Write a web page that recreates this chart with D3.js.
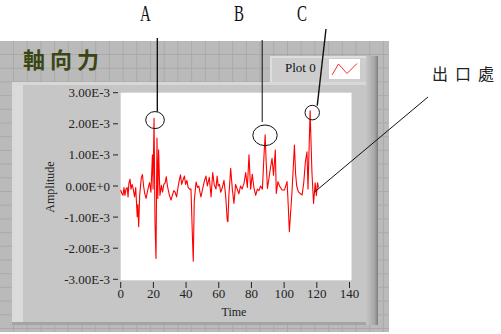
<!DOCTYPE html>
<html>
<head>
<meta charset="utf-8">
<script src="https://cdn.jsdelivr.net/npm/d3@7"></script>
<style>
  body { margin: 0; background: #fff; }
  svg { display: block; }
</style>
</head>
<body>
<script>
// ---- data (amplitude in units of 1E-3) ----
const timeVals = [0, 0.7, 1.4, 2, 2.6, 3.2, 4, 4.5, 5, 5.7, 6.3, 7, 7.6, 8.5, 9.2, 10.1, 10.5, 11, 11.6,
  12.6, 13.3, 14, 14.7, 15.5, 16.3, 17.1, 17.7, 18.5, 19.4, 19.8, 20.4, 21, 21.6, 22.2, 22.7, 23.2, 24,
  24.9, 25.6, 26.4, 27.2, 27.9, 28.6, 29.8, 30.8, 31.6, 32.5, 33.3, 34.2, 35.2, 35.9, 36.6, 37.3, 38.2,
  39, 39.7, 40.5, 41.3, 42.2, 43, 44, 44.4, 45, 46.1, 47, 47.8, 48.5, 49.1, 50.1, 51.2, 52.2, 53, 54.2,
  55.3, 56.3, 57.2, 58.3, 59, 59.7, 60.4, 61.2, 62.2, 63.2, 64.2, 65.2, 65.6, 66.2, 67.3, 68.3, 69.3,
  70.3, 71.3, 72.3, 73.3, 74.3, 75.5, 76.5, 77.5, 78.5, 79.5, 80.5, 81.5, 82.6, 83.6, 84.6, 85.6, 86.7,
  87.7, 88.4, 89, 89.8, 90.6, 91.6, 92.6, 93.5, 94.6, 95.2, 96.2, 97.2, 98.7, 100.2, 101.8, 102.5, 103.2,
  104.8, 106.3, 107, 107.7, 108.7, 110, 111, 112, 113, 114, 114.6, 115.9, 117, 118, 119, 119.7, 120.5, 121];
const ampVals = [-0.13, -0.24, -0.30, -0.05, -0.30, -0.10, -0.05, -0.35, 0.08, 0.22, -0.10, 0.05, -0.08,
  -0.35, -0.05, -0.99, -0.60, -1.31, -0.30, 0.26, 0.37, 0.00, -0.24, -0.40, -0.20, 0.00, 0.11, -0.20, 1.00,
  -0.10, 2.18, -1.20, -2.33, 1.54, -0.40, 1.16, -0.30, 0.02, -0.20, 0.05, 0.10, 0.30, 0.00, -0.30, -0.45,
  -0.30, -0.15, -0.20, -0.35, 0.00, 0.20, 0.36, 0.05, 0.20, 0.32, 0.05, 0.18, -0.05, -0.10, -0.10, -1.80,
  -2.42, -0.50, 0.13, -0.05, 0.00, -0.20, -0.35, -0.10, 0.16, 0.32, 0.00, 0.28, -0.35, 0.43, 0.05, -0.10,
  0.32, 0.00, 0.05, -0.20, -0.05, 0.18, -0.30, -1.10, -1.15, -0.30, 0.57, -0.10, -0.56, 0.05, -0.10, -0.25,
  0.00, -0.10, 0.10, 0.43, -0.05, 1.00, -0.10, 0.38, -0.05, -0.30, -0.10, -0.15, 0.00, -0.10, 1.00, 1.65,
  0.78, -0.08, 0.20, 0.57, 0.89, 0.35, 1.16, -0.24, 0.14, 0.00, -0.13, -0.13, 0.14, -0.60, -1.47, -0.20,
  1.32, 0.40, 0.00, -0.18, -0.25, -0.29, 0.10, 0.78, 1.10, -0.10, 2.42, 0.46, -0.56, 0.10, -0.30, 0.10, -0.05];

const xTicks = [0, 20, 40, 60, 80, 100, 120, 140];
const yTicks = [3, 2, 1, 0, -1, -2, -3];
const yTickLabels = ["3.00E-3", "2.00E-3", "1.00E-3", "0.00E+0", "-1.00E-3", "-2.00E-3", "-3.00E-3"];

// circled peaks
const markLabels = ["A", "B", "C"];
const markTimes = [21, 88.3, 117.2];
const markAmps = [2.12, 1.63, 2.36];
const exitLabel = "出口處";
const exitTime = 118.5, exitAmp = -0.2;

const W = 501, H = 334;
const svg = d3.select("body").append("svg").attr("width", W).attr("height", H);

const x = d3.scaleLinear().domain([0, 140]).range([120.7, 349.5]);
const y = d3.scaleLinear().domain([-3, 3]).range([279.3, 92.7]);

// ---- LabVIEW style panel ----
svg.append("rect").attr("x", 0).attr("y", 41).attr("width", 389).attr("height", 291).attr("fill", "#bababa");
const grid = svg.append("g").attr("stroke", "#aaaaaa").attr("stroke-width", 1);
grid.selectAll("line.v").data(d3.range(13.5, 389, 13.7)).enter().append("line")
  .attr("x1", d => d).attr("x2", d => d).attr("y1", 41).attr("y2", 332);
grid.selectAll("line.h").data(d3.range(54.5, 332, 13.7)).enter().append("line")
  .attr("x1", 0).attr("x2", 389).attr("y1", d => d).attr("y2", d => d);

const defs = svg.append("defs");
const bev = defs.append("linearGradient").attr("id", "bev").attr("x1", 0).attr("x2", 1).attr("y1", 0).attr("y2", 0);
bev.append("stop").attr("offset", "0%").attr("stop-color", "#c6c6c6");
bev.append("stop").attr("offset", "70%").attr("stop-color", "#a8a8a8");
bev.append("stop").attr("offset", "100%").attr("stop-color", "#7e7e7e");

// inner panel + legend tab
svg.append("rect").attr("x", 12).attr("y", 82).attr("width", 366).attr("height", 243).attr("fill", "#c6c6c6");
svg.append("rect").attr("x", 12).attr("y", 82).attr("width", 11).attr("height", 243).attr("fill", "#dadada");
svg.append("rect").attr("x", 12).attr("y", 82).attr("width", 358).attr("height", 3).attr("fill", "#d8d8d8");
svg.append("rect").attr("x", 12).attr("y", 322).attr("width", 366).attr("height", 3).attr("fill", "#a4a4a4");
svg.append("rect").attr("x", 270).attr("y", 56).attr("width", 108).attr("height", 26).attr("fill", "#cdcdcd");
svg.append("rect").attr("x", 270).attr("y", 56).attr("width", 100).attr("height", 2).attr("fill", "#dedede");
svg.append("rect").attr("x", 270).attr("y", 56).attr("width", 2).attr("height", 26).attr("fill", "#dedede");
svg.append("rect").attr("x", 366).attr("y", 56).attr("width", 12).attr("height", 269).attr("fill", "url(#bev)");

// title
svg.append("text").attr("x", 23).attr("y", 68).text("軸向力")
  .attr("font-family", "Noto Sans CJK TC").attr("font-weight", "bold").attr("font-size", 22)
  .attr("letter-spacing", 5).attr("fill", "#3a4614");

// legend
svg.append("text").attr("x", 285).attr("y", 72).text("Plot 0")
  .attr("font-family", "Liberation Serif").attr("font-size", 13).attr("fill", "#111");
svg.append("rect").attr("x", 329).attr("y", 59).attr("width", 31).attr("height", 20).attr("fill", "#fff");
svg.append("polyline").attr("points", "332,75 338.5,64 347,73.5 357,63.5")
  .attr("fill", "none").attr("stroke", "#f03030").attr("stroke-width", 1);

// ---- plot area ----
svg.append("rect").attr("x", x(0)).attr("y", y(3)).attr("width", x(140) - x(0) + 2).attr("height", y(-3) - y(3) + 1)
  .attr("fill", "#fff");

const data = timeVals.map((t, i) => ({ t, v: ampVals[i] }));
const line = d3.line().x(d => x(d.t)).y(d => y(d.v));
svg.append("path").datum(data).attr("d", line)
  .attr("fill", "none").attr("stroke", "#ff0000").attr("stroke-width", 1.1).attr("stroke-linejoin", "round");

// y axis
const yAx = svg.append("g").attr("font-family", "Liberation Serif").attr("font-size", 13).attr("fill", "#222");
yAx.selectAll("line").data(yTicks).enter().append("line")
  .attr("x1", 113).attr("x2", 118).attr("y1", d => y(d)).attr("y2", d => y(d))
  .attr("stroke", "#222").attr("stroke-width", 1);
yAx.selectAll("text").data(yTicks).enter().append("text")
  .attr("x", 110).attr("y", d => y(d) + 4.5).attr("text-anchor", "end")
  .text((d, i) => yTickLabels[i]);

// x axis
const xAx = svg.append("g").attr("font-family", "Liberation Serif").attr("font-size", 13).attr("fill", "#222");
xAx.selectAll("line").data(xTicks).enter().append("line")
  .attr("x1", d => x(d)).attr("x2", d => x(d)).attr("y1", 282).attr("y2", 288)
  .attr("stroke", "#222").attr("stroke-width", 1);
xAx.selectAll("text").data(xTicks).enter().append("text")
  .attr("x", d => x(d)).attr("y", 298).attr("text-anchor", "middle").text(d => d);

svg.append("text").attr("x", 234).attr("y", 316).attr("text-anchor", "middle").text("Time")
  .attr("font-family", "Liberation Serif").attr("font-size", 12).attr("fill", "#222");
svg.append("text").attr("transform", "translate(54,187) rotate(-90)").attr("text-anchor", "middle").text("Amplitude")
  .attr("font-family", "Liberation Serif").attr("font-size", 12).attr("fill", "#222");

// ---- annotations ----
const rx = [9.3, 12.2, 7.2], ry = [8.5, 10.3, 7.3];
const ann = svg.append("g").attr("fill", "none").attr("stroke", "#111").attr("stroke-width", 1);
markTimes.forEach((t, i) => {
  ann.append("ellipse").attr("cx", x(t)).attr("cy", y(markAmps[i])).attr("rx", rx[i]).attr("ry", ry[i]);
});
// leader lines
ann.append("line").attr("x1", x(markTimes[0]) + 2.3).attr("x2", x(markTimes[0]) + 2.3)
  .attr("y1", 38).attr("y2", y(markAmps[0]) - ry[0]).attr("stroke-width", 1.4);
ann.append("line").attr("x1", x(markTimes[1]) - 2.8).attr("x2", x(markTimes[1]) - 2.8)
  .attr("y1", 40).attr("y2", y(markAmps[1]) - ry[1] - 3);
ann.append("line").attr("x1", 326).attr("y1", 29).attr("x2", x(markTimes[2]) + 5).attr("y2", y(markAmps[2]) - 7)
  .attr("stroke-width", 1.4);
ann.append("line").attr("x1", 428).attr("y1", 97).attr("x2", x(exitTime)).attr("y2", y(exitAmp));

const markX = [145.3, 239, 302];
svg.selectAll("text.mark").data(markLabels).enter().append("text").attr("class", "mark")
  .attr("transform", (d, i) => `translate(${markX[i]},21) scale(0.65,1)`)
  .attr("text-anchor", "middle").text(d => d)
  .attr("font-family", "Liberation Serif").attr("font-size", 23).attr("fill", "#111");

svg.append("text").attr("x", 432).attr("y", 80).text(exitLabel)
  .attr("font-family", "Noto Sans CJK TC").attr("font-size", 16).attr("letter-spacing", 7).attr("fill", "#222");
</script>
</body>
</html>
